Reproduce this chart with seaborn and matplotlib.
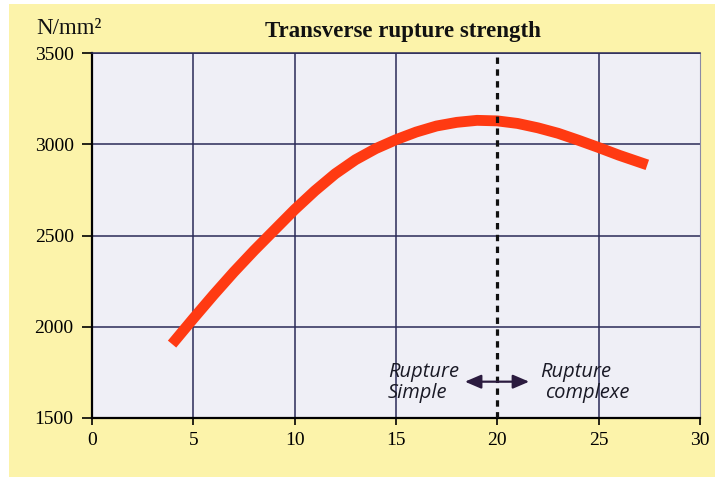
import matplotlib
matplotlib.use("Agg")
import matplotlib.pyplot as plt
from matplotlib.patches import Rectangle
import seaborn as sns
import pandas as pd

# ---- data ----
diameter = [3.95, 5, 6, 7, 8, 9, 10, 11, 12, 13, 14, 15, 16, 17, 18, 19, 20,
            21, 22, 23, 24, 25, 26, 27.4]
strength = [1905, 2045, 2175, 2300, 2418, 2530, 2642, 2745, 2838, 2915, 2976,
            3025, 3067, 3100, 3120, 3131, 3128, 3114, 3090, 3060, 3022, 2982,
            2940, 2887]
x_ticks = [0, 5, 10, 15, 20, 25, 30]
y_ticks = [1500, 2000, 2500, 3000, 3500]
boundary_x = 20
title = "Transverse rupture strength"
unit = "N/mm²"

df = pd.DataFrame({"d": diameter, "s": strength})

sns.set_style("white")
plt.rcParams["font.family"] = ["Liberation Serif", "DejaVu Serif"]

YELLOW = "#FCF3AA"
FACE = "#EFEFF6"
GRID = "#2A2A58"
RED = "#FF3A12"

fig = plt.figure(figsize=(7.18, 4.78), dpi=100, facecolor="white")
fig.patches.append(Rectangle((9 / 718, 1 - 477 / 478), (715 - 9) / 718, (477 - 4) / 478,
                             transform=fig.transFigure, facecolor=YELLOW,
                             edgecolor="none", zorder=-10))
ax = fig.add_axes([92 / 718, 1 - 418 / 478, (700 - 92) / 718, (418 - 53) / 478])
ax.set_facecolor(FACE)

sns.lineplot(data=df, x="d", y="s", ax=ax, color=RED, linewidth=7.8,
             solid_capstyle="butt", solid_joinstyle="round", zorder=5)

ax.set_xlim(0, 30)
ax.set_ylim(1500, 3500)
ax.set_xticks(x_ticks)
ax.set_yticks(y_ticks)
ax.set_xlabel("")
ax.set_ylabel("")

ax.grid(True, color=GRID, linewidth=1.1, zorder=1)
ax.set_axisbelow(True)
# the dashed boundary replaces the grid line at 20
for val, gl in zip(x_ticks, ax.xaxis.get_gridlines()):
    if val == boundary_x or val in (0, 30):
        gl.set_visible(False)

ax.axvline(boundary_x, color="#111111", linewidth=2.3,
           linestyle=(0, (2.0, 1.7)), zorder=6)

for s in ["left", "bottom"]:
    ax.spines[s].set_color("black")
    ax.spines[s].set_linewidth(1.6)
ax.spines["top"].set_color(GRID)
ax.spines["top"].set_linewidth(1.1)
ax.spines["right"].set_color("#8A8AA6")
ax.spines["right"].set_linewidth(0.8)

ax.tick_params(axis="y", direction="out", length=7.2, width=1.2, pad=6,
               labelsize=14, colors="black", left=True)
ax.tick_params(axis="x", direction="out", length=5, width=1.2, pad=5,
               labelsize=14, colors="black", bottom=True)

fig.text(402.5 / 718, 1 - 37 / 478, title, ha="center", va="baseline",
         fontsize=16.5, fontweight="bold", color="#111111")
fig.text(36 / 718, 1 - 34.5 / 478, unit, ha="left", va="baseline",
         fontsize=16.5, color="#111111")

afont = dict(family=["Open Sans", "DejaVu Sans"], style="italic",
             fontsize=14.5, color="#1A1A26")
ax.text(14.60, 1726, "Rupture", ha="left", va="baseline", zorder=7, **afont)
ax.text(14.60, 1608, "Simple", ha="left", va="baseline", zorder=7, **afont)
ax.text(22.1, 1726, "Rupture", ha="left", va="baseline", zorder=7, **afont)
ax.text(22.35, 1608, "complexe", ha="left", va="baseline", zorder=7, **afont)

ax.annotate("", xy=(18.40, 1699), xytext=(21.57, 1699),
            arrowprops=dict(arrowstyle="<|-|>,head_length=0.7,head_width=0.3",
                            color="#2B1B3F", lw=1.6, shrinkA=0, shrinkB=0,
                            mutation_scale=14),
            zorder=7)

fig.savefig("out.png", dpi=100, facecolor=fig.get_facecolor())
